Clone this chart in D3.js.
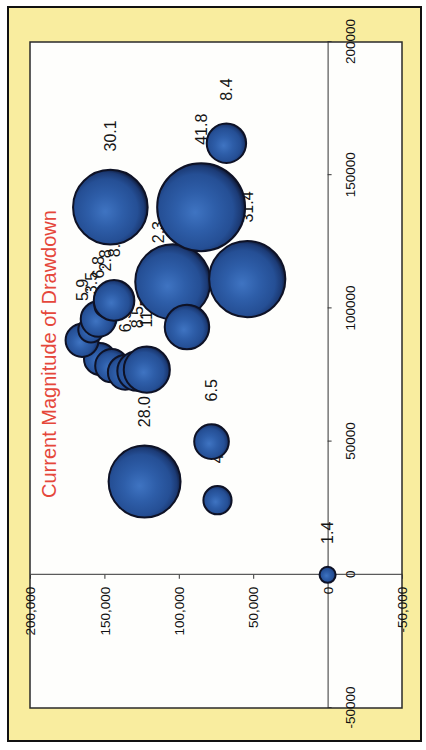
<!DOCTYPE html>
<html>
<head>
<meta charset="utf-8">
<script src="https://cdn.jsdelivr.net/npm/d3@7"></script>
<style>
  html, body { margin: 0; padding: 0; background: #ffffff; }
  svg { display: block; }
  text { font-family: "Liberation Sans", Arial, Helvetica, sans-serif; }
</style>
</head>
<body>
<svg id="chart" width="426" height="750"></svg>
<script>
// Bubble series: x, y and bubble size (label shows the size)
const bubbleX    = [0,     28000, 50000, 35000, 81000, 78500, 76000, 76500, 77000, 88000,  92000,  96000,  101000, 103000, 112000, 110000, 93000, 111000, 138000, 162000, 138000];
const bubbleY    = [0,     74000, 78000, 123000, 153000, 145000, 136000, 128000, 121500, 165000, 159000, 154000, 149000, 143500, 114000, 104000, 94500, 54000, 85000, 68000, 146000];
const bubbleSize = [1.4,   4.3,   6.5,   28.0,  5.5,   6.0,   6.5,   8.5,   11.5,  5.9,    3.5,    6.8,    2.8,    8.9,    2.3,    30.6,   10.7,  31.4,  41.8,  8.4,   30.1];

// Axis ticks
const xTicks = [-50000, 0, 50000, 100000, 150000, 200000];
const yTicks = [-50000, 0, 50000, 100000, 150000, 200000];

const chartTitle = "Current Magnitude of Drawdown";

const svg = d3.select("#chart");

// Outer yellow frame and white plot area
svg.append("rect").attr("x", 8).attr("y", 7).attr("width", 413).attr("height", 734)
  .attr("fill", "#f9ed9f").attr("stroke", "#111").attr("stroke-width", 2);
svg.append("rect").attr("x", 30).attr("y", 42).attr("width", 372).attr("height", 666)
  .attr("fill", "#fefefc").attr("stroke", "#2a2a2a").attr("stroke-width", 1.5);

// The chart is laid out sideways: build it in its own frame and turn it a quarter turn
const plotW = 666, plotH = 372;
const g = svg.append("g").attr("transform", "translate(30,708) rotate(-90)");

const x = d3.scaleLinear().domain([-50000, 200000]).range([0, plotW]);
const y = d3.scaleLinear().domain([-50000, 200000]).range([plotH, 0]);
const r = d3.scaleSqrt().domain([0, 1]).range([0, 6.8]);

const loc = d3.formatLocale({decimal: ".", thousands: ",", grouping: [3], currency: ["$", ""], minus: "-"});
const fmtPlain = loc.format("d");
const fmtComma = loc.format(",d");
const fmtLabel = loc.format(".1f");

// Sphere shading
const defs = svg.append("defs");
const grad = defs.append("radialGradient").attr("id", "ball")
  .attr("cx", 0.46).attr("cy", 0.45).attr("r", 0.56).attr("fx", 0.44).attr("fy", 0.43);
[["0%", "#3f74c2"], ["40%", "#2e5ea9"], ["75%", "#254f95"], ["90%", "#1c3b76"], ["100%", "#0f1834"]]
  .forEach(([o, c]) => grad.append("stop").attr("offset", o).attr("stop-color", c));

// Horizontal axis along y = 0
const xAxis = g.append("g").attr("transform", `translate(0,${y(0)})`)
  .call(d3.axisBottom(x).tickValues(xTicks).tickFormat(fmtPlain).tickSize(4).tickSizeOuter(0))
  .attr("font-family", null);
xAxis.select(".domain").attr("stroke", "#333");
xAxis.selectAll(".tick line").attr("stroke", "#333");
xAxis.selectAll(".tick text").attr("y", 22.5).attr("dy", "0.35em")
  .attr("font-size", 13.5).attr("fill", "#111");

// Vertical axis along x = 0
const yAxis = g.append("g").attr("transform", `translate(${x(0)},0)`)
  .call(d3.axisLeft(y).tickValues(yTicks).tickFormat(fmtComma).tickSize(4).tickSizeOuter(0))
  .attr("font-family", null);
yAxis.select(".domain").attr("stroke", "#333");
yAxis.selectAll(".tick line").attr("stroke", "#333");
yAxis.selectAll(".tick text").attr("x", -12).attr("dy", "0.35em")
  .attr("font-size", 13.5).attr("fill", "#111");

// Title
g.append("text").attr("x", 210).attr("y", 26)
  .attr("font-size", 20).attr("fill", "#e5473b").text(chartTitle);

const pts = bubbleX.map((d, i) => ({x: d, y: bubbleY[i], s: bubbleSize[i]}));

// Size labels sit beside each bubble, beneath the bubble layer
g.append("g").selectAll("text").data(pts).join("text")
  .attr("x", d => x(d.x) + r(d.s) + 34)
  .attr("y", d => y(d.y))
  .attr("dy", "0.35em")
  .attr("text-anchor", "middle")
  .attr("font-size", 16)
  .attr("fill", "#151515")
  .text(d => fmtLabel(d.s));

// Bubbles
g.append("g").selectAll("circle").data(pts).join("circle")
  .attr("cx", d => x(d.x))
  .attr("cy", d => y(d.y))
  .attr("r", d => r(d.s))
  .attr("fill", "url(#ball)")
  .attr("stroke", "#0e1226")
  .attr("stroke-width", 2);
</script>
</body>
</html>
